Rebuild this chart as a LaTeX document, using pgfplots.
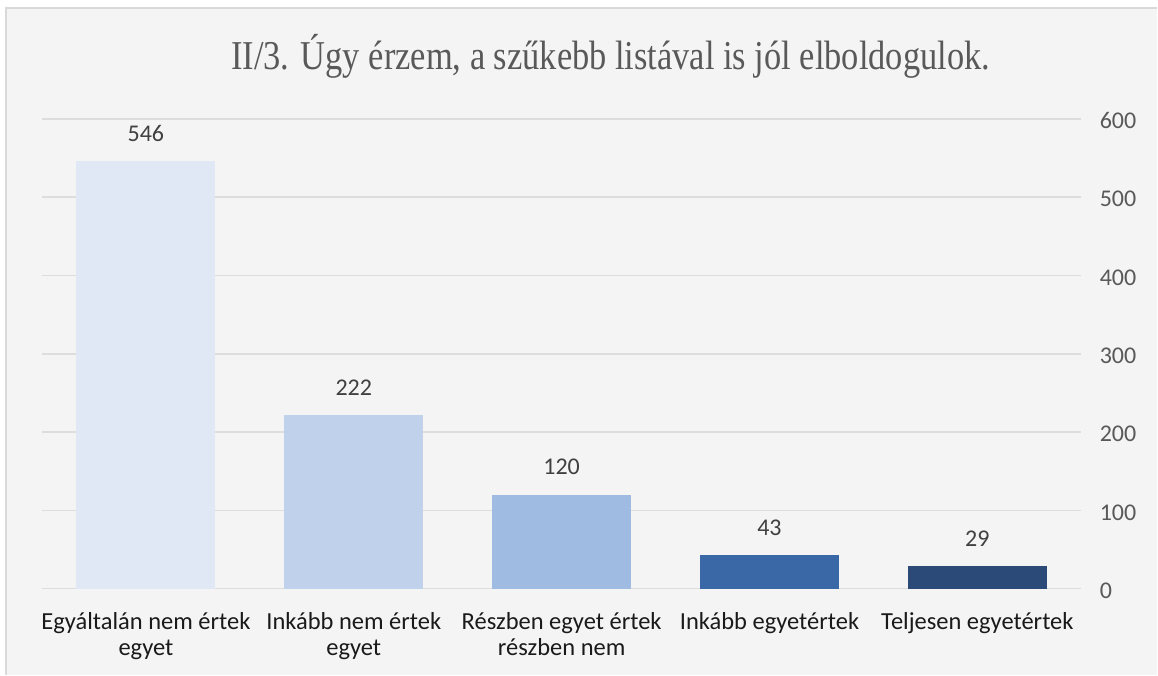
\documentclass[border=0pt]{standalone}
\usepackage{fontspec}
\setmainfont{Carlito}
\newfontfamily\titlefont{Liberation Serif}
\usepackage{pgfplots}
\pgfplotsset{compat=1.18}
\definecolor{bgc}{HTML}{F4F4F4}
\definecolor{bordc}{HTML}{D9D9D9}
\definecolor{gridc}{HTML}{DDDDDD}
\definecolor{titlec}{HTML}{595959}
\definecolor{tickc}{HTML}{595959}
\definecolor{lblc}{HTML}{1A1A1A}
\definecolor{valc}{HTML}{404040}
\definecolor{c1}{HTML}{E0E7F5}
\definecolor{c2}{HTML}{C0D1EB}
\definecolor{c3}{HTML}{A0BBE2}
\definecolor{c4}{HTML}{3A68A6}
\definecolor{c5}{HTML}{2B4A78}
\begin{document}
\begin{tikzpicture}[x=1pt,y=1pt]
\fill[white] (0,0) rectangle (1158,675);
\fill[bgc] (6,0) rectangle (1158,667);
\draw[bordc, line width=1.5pt] (6,0) -- (6,667) -- (1158,667);
\begin{axis}[
  at={(42pt,86pt)}, anchor=south west,
  scale only axis, width=1040pt, height=470pt,
  xmin=-0.5, xmax=4.5, ymin=0, ymax=600,
  ytick={0,100,...,600},
  yticklabel pos=right,
  ymajorgrids,
  grid style={color=gridc, line width=1.5pt},
  axis line style={draw=none},
  major tick length=0pt,
  xtick={0,1,2,3,4},
  xticklabels={{Egyáltalán nem értek\\egyet},{Inkább nem értek\\egyet},{Részben egyet értek\\részben nem},{Inkább egyetértek},{Teljesen egyetértek}},
  xticklabel style={align=center, font=\fontsize{24.5}{26}\selectfont, text=lblc, anchor=north, yshift=-20pt},
  yticklabel style={font=\fontsize{24}{26}\selectfont, text=tickc, anchor=west, xshift=15pt, yshift=-2pt},
  /pgf/number format/assume math mode=true,
  bar width=139pt,
  nodes near coords,
  nodes near coords style={font=\fontsize{24}{26}\selectfont, text=valc, yshift=16pt},
  clip=false,
]
\addplot[ybar, bar shift=0pt, fill=c1, draw=none] coordinates {(0,546)};
\addplot[ybar, bar shift=0pt, fill=c2, draw=none] coordinates {(1,222)};
\addplot[ybar, bar shift=0pt, fill=c3, draw=none] coordinates {(2,120)};
\addplot[ybar, bar shift=0pt, fill=c4, draw=none] coordinates {(3,43)};
\addplot[ybar, bar shift=0pt, fill=c5, draw=none] coordinates {(4,29)};
\end{axis}
\node[anchor=base, text=titlec, inner sep=0pt] at (611,605) {\scalebox{0.84}[1]{\titlefont\fontsize{41}{48}\selectfont II/3. Úgy érzem, a szűkebb listával is jól elboldogulok.}};
\end{tikzpicture}
\end{document}
